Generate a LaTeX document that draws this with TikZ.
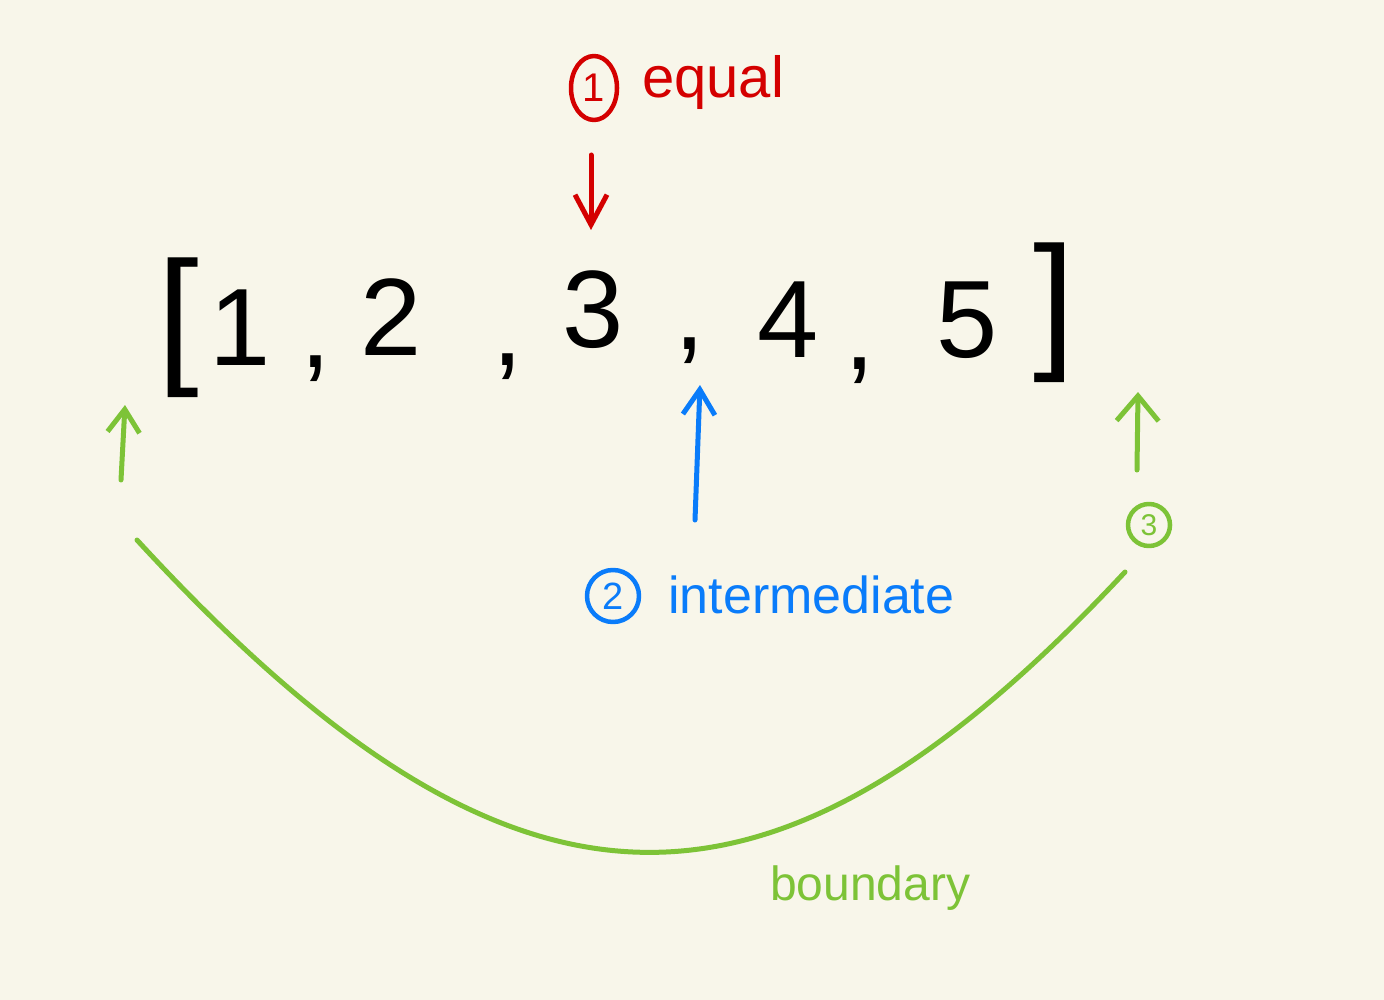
\documentclass[tikz,border=0pt]{standalone}
\usepackage{fontspec}
\setmainfont{Liberation Sans}
\usetikzlibrary{arrows.meta,shapes.geometric}
\definecolor{bg}{HTML}{F8F6EA}
\definecolor{hred}{HTML}{D40000}
\definecolor{hblue}{HTML}{0A7CFA}
\definecolor{hgreen}{HTML}{7DC337}
\begin{document}
\begin{tikzpicture}[x=1pt,y=-1pt,line cap=round,line join=round,
  digit/.style={anchor=base,inner sep=0pt,font=\fontsize{110}{110}\selectfont},
  brack/.style={anchor=base,inner sep=0pt,font=\fontsize{150}{150}\selectfont},
  note/.style={anchor=base west,inner sep=0pt,font=\fontsize{#1}{#1}\selectfont},
  circnum/.style={draw,line width=4.5pt,inner sep=0pt},
  hand/.style={line width=5pt},
  harrow/.style={hand,-{Straight Barb[length=#1,width=32pt,line width=5pt]}}]
\fill[bg] (0,0) rectangle (1384,1000);
\useasboundingbox (0,0) rectangle (1384,1000);

% array
\node[brack] (lb) at (178,366) {[};
\node[digit] (d1) at (240,365) {1};
\node[digit] (k1) at (316,367) {,};
\node[digit] (d2) at (391,355) {2};
\node[digit] (k2) at (508,365) {,};
\node[digit] (d3) at (593,348) {3};
\node[digit] (k3) at (690,349) {,};
\node[digit] (d4) at (788,357) {4};
\node[digit] (k4) at (860,369) {,};
\node[digit] (d5) at (967,357) {5};
\node[brack] (rb) at (1054,351) {]};

% 1 equal
\node[circnum,hred,ellipse,minimum width=46pt,minimum height=64pt,
  font=\fontsize{40}{40}\selectfont] (c1) at (594,88) {1};
\node[note=58,hred] (eq) at (642,98) {equal};
\coordinate (r0) at (591,155);
\coordinate (r1) at (591,230);
\draw[harrow=30pt,hred] (r0) -- (r1);

% 2 intermediate
\node[circnum,hblue,circle,minimum size=52pt,
  font=\fontsize{38}{38}\selectfont] (c2) at (613,596) {2};
\node[note=52,hblue] (im) at (668,613) {intermediate};
\coordinate (b0) at (695,520);
\coordinate (b1) at (700,385);
\draw[harrow=25pt,hblue] (b0) -- (b1);

% 3 boundary
\node[circnum,hgreen,circle,minimum size=42pt,
  font=\fontsize{30}{30}\selectfont] (c3) at (1149,525) {3};
\node[note=48,hgreen] (bd) at (770,900) {boundary};
\coordinate (gl0) at (121,480);
\coordinate (gl1) at (125,405);
\coordinate (gr0) at (1137,470);
\coordinate (gr1) at (1138,392);
\draw[harrow=23pt,hgreen] (gl0) -- (gl1);
\draw[hgreen,hand,-{Straight Barb[length=25pt,width=42pt,line width=5pt]}] (gr0) -- (gr1);
\coordinate (a0) at (137,540);
\coordinate (a1) at (1125,572);
\draw[hgreen,hand] (a0) .. controls (515,951) and (771,951) .. (a1);
\end{tikzpicture}
\end{document}
